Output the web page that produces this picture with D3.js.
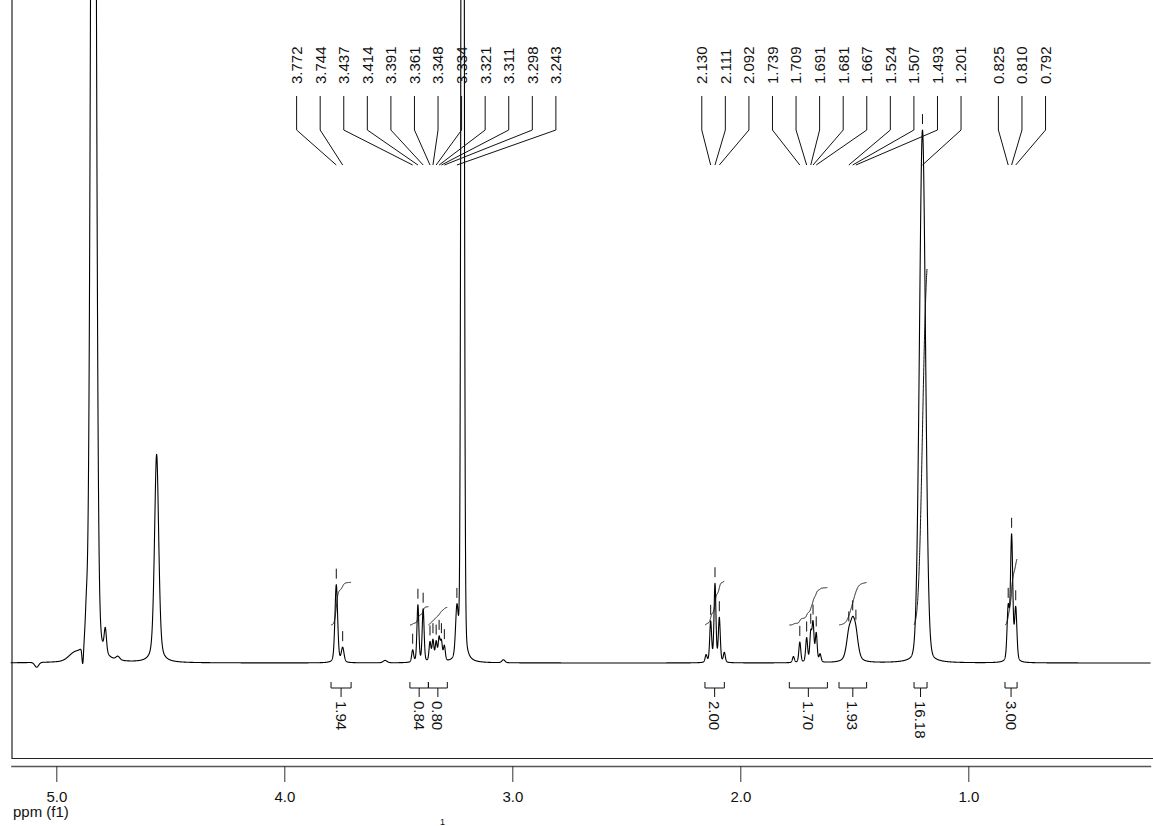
<!DOCTYPE html>
<html>
<head>
<meta charset="utf-8">
<script src="https://cdn.jsdelivr.net/npm/d3@7"></script>
<style>
  body { margin: 0; background: #fff; }
  svg { display: block; }
  text { font-family: "Liberation Sans", Arial, sans-serif; fill: #111; }
</style>
</head>
<body>
<svg id="chart" width="1153" height="826"></svg>
<script>
// ---- Resonances of the 1H spectrum: shift (ppm), height (a.u.), half width (ppm), Lorentzian share
const peakPpm     = [5.086, 4.920, 4.884, 4.868, 4.837, 4.785, 4.730, 4.560,
                     3.772, 3.744, 3.558, 3.437, 3.414, 3.391, 3.361, 3.348, 3.334, 3.321, 3.311, 3.298,
                     3.243, 3.218, 3.039,
                     2.150, 2.130, 2.111, 2.092, 2.070,
                     1.767, 1.739, 1.709, 1.691, 1.681, 1.667, 1.650,
                     1.524, 1.507, 1.493, 1.201,
                     0.825, 0.810, 0.792];
const peakHeight  = [-0.8, 1.1, -3.0, 5.0, 250, 4.0, 0.6, 34.7,
                     13.0, 2.4, 0.4, 2.0, 9.5, 8.8, 3.2, 3.5, 3.2, 3.8, 3.2, 2.5,
                     8.0, 333, 0.5,
                     1.2, 6.7, 13.0, 7.3, 1.6,
                     1.0, 3.4, 4.0, 4.7, 6.3, 4.7, 1.3,
                     4.0, 4.7, 3.7, 88.8,
                     8.7, 20.8, 8.7];
const peakWidth   = [0.010, 0.030, 0.004, 0.006, 0.012, 0.006, 0.010, 0.011,
                     0.007, 0.007, 0.010, 0.005, 0.005, 0.005, 0.005, 0.005, 0.005, 0.005, 0.005, 0.005,
                     0.007, 0.006, 0.008,
                     0.005, 0.005, 0.005, 0.005, 0.005,
                     0.005, 0.005, 0.005, 0.005, 0.005, 0.005, 0.005,
                     0.013, 0.013, 0.013, 0.0158,
                     0.006, 0.006, 0.006];
const peakLorentz = [0, 0, 0, 0.3, 0.15, 0.3, 0.3, 0.4,
                     0.3, 0.3, 0.3, 0.3, 0.3, 0.3, 0.3, 0.3, 0.3, 0.3, 0.3, 0.3,
                     0.3, 0.1, 0.3,
                     0.3, 0.3, 0.3, 0.3, 0.3,
                     0.3, 0.3, 0.3, 0.3, 0.3, 0.3, 0.3,
                     0.5, 0.5, 0.5, 0.12,
                     0.3, 0.3, 0.3];

// ---- Peak picking labels (ppm)
const pickedPpm = [3.772, 3.744, 3.437, 3.414, 3.391, 3.361, 3.348, 3.334, 3.321, 3.311, 3.298, 3.243,
                   2.130, 2.111, 2.092, 1.739, 1.709, 1.691, 1.681, 1.667, 1.524, 1.507, 1.493, 1.201,
                   0.825, 0.810, 0.792];

// ---- Integrals: region start / end (ppm) and normalised value
const integralFrom  = [3.795, 3.449, 3.368, 2.155, 1.785, 1.567, 1.238, 0.839];
const integralTo    = [3.707, 3.368, 3.285, 2.070, 1.618, 1.446, 1.181, 0.786];
const integralValue = [1.94, 0.84, 0.80, 2.00, 1.70, 1.93, 16.18, 3.00];

// ---- Axis ticks (ppm)
const majorTicks = [5.0, 4.0, 3.0, 2.0, 1.0];
const minorTicks = d3.range(26).map(i => +(5.2 - i * 0.2).toFixed(1));

// ---------------------------------------------------------------
const svg = d3.select("#chart");
const W = 1153, H = 826;

const x = d3.scaleLinear().domain([5.2, 0.2]).range([10.7, 1150.7]);
const y = d3.scaleLinear().domain([0, 100]).range([663, 63]);

// line shape: pseudo-Voigt
function intensity(ppm) {
  let s = 0;
  for (let i = 0; i < peakPpm.length; i++) {
    const r = (ppm - peakPpm[i]) / peakWidth[i];
    const r2 = r * r;
    const eta = peakLorentz[i];
    s += peakHeight[i] * (eta / (1 + r2) + (1 - eta) * Math.exp(-Math.LN2 * r2));
  }
  return s;
}

const step = 0.0004;
const spectrum = d3.range(5.2, 0.2, -step).map(p => ({ ppm: p, v: intensity(p) }));

// frame
svg.append("line").attr("x1", 12).attr("x2", 12).attr("y1", 0).attr("y2", 759)
  .attr("stroke", "#222").attr("stroke-width", 1.2);
svg.append("line").attr("x1", 12).attr("x2", W).attr("y1", 758.5).attr("y2", 758.5)
  .attr("stroke", "#222").attr("stroke-width", 1);

// spectrum trace
const line = d3.line().x(d => x(d.ppm)).y(d => y(d.v));
svg.append("path").datum(spectrum)
  .attr("d", line).attr("fill", "none").attr("stroke", "#000").attr("stroke-width", 1.1)
  .attr("stroke-linejoin", "round");

// peak pick markers and labels
const labelGroups = [[0, 12, 3.946], [12, 24, 2.169], [24, 27, 0.868]];
const labelStep = 0.10338;
const labelX = [];
labelGroups.forEach(([a, b, p0]) => {
  for (let i = a; i < b; i++) labelX[i] = x(p0 - (i - a) * labelStep);
});

const picks = svg.append("g");
pickedPpm.forEach((p, i) => {
  const lx = labelX[i], px = x(p);
  picks.append("text")
    .attr("transform", `translate(${lx},84) rotate(-90)`)
    .attr("dy", "0.36em")
    .attr("font-size", 15)
    .text(p.toFixed(3));
  picks.append("path")
    .attr("d", `M${lx},96 L${lx},130 L${px},165`)
    .attr("fill", "none").attr("stroke", "#111").attr("stroke-width", 1);
  const top = y(intensity(p));
  picks.append("line").attr("x1", px).attr("x2", px)
    .attr("y1", top - 16).attr("y2", top - 6)
    .attr("stroke", "#111").attr("stroke-width", 1);
});

// integrals
const intBase = 38 / 6, intScale = 22 / 6;
const ints = svg.append("g");
integralFrom.forEach((from, k) => {
  const to = integralTo[k];
  const pts = spectrum.filter(d => d.ppm <= from && d.ppm >= to);
  let cum = 0;
  const cumPts = pts.map(d => { cum += Math.max(d.v, 0); return { ppm: d.ppm, c: cum }; });
  const total = cum || 1;
  const curve = d3.line().x(d => x(d.ppm))
    .y(d => y(intBase + d.c / total * integralValue[k] * intScale));
  ints.append("path").datum(cumPts).attr("d", curve)
    .attr("fill", "none").attr("stroke", "#111").attr("stroke-width", 1);

  const x1 = x(from), x2 = x(to), xc = (x1 + x2) / 2;
  ints.append("path")
    .attr("d", `M${x1},682 L${x1},688 L${x2},688 L${x2},682 M${xc},688 L${xc},697`)
    .attr("fill", "none").attr("stroke", "#111").attr("stroke-width", 1);
  ints.append("text")
    .attr("transform", `translate(${xc},701) rotate(90)`)
    .attr("dy", "0.36em")
    .attr("font-size", 15)
    .text(integralValue[k].toFixed(2));
});

// ppm axis
const axisG = svg.append("g").attr("transform", "translate(0,766)");
axisG.call(d3.axisBottom(x).tickValues(minorTicks).tickSize(8).tickSizeOuter(0).tickFormat(""));
axisG.call(d3.axisBottom(x).tickValues(majorTicks).tickSize(16).tickSizeOuter(0).tickPadding(9)
  .tickFormat(d3.format(".1f")));
axisG.selectAll(".domain").attr("stroke", "#555").attr("stroke-width", 1.6);
axisG.selectAll(".tick line").attr("stroke", "#333");
axisG.selectAll(".tick text").attr("font-size", 15).attr("font-family", "Liberation Sans, Arial, sans-serif").attr("fill", "#111");

svg.append("text").attr("x", 13).attr("y", 817).attr("font-size", 15).text("ppm (f1)");

// caption (superscript mass number of the nucleus)
svg.append("text").attr("x", 440).attr("y", 825).attr("font-size", 9).text("1");
</script>
</body>
</html>
